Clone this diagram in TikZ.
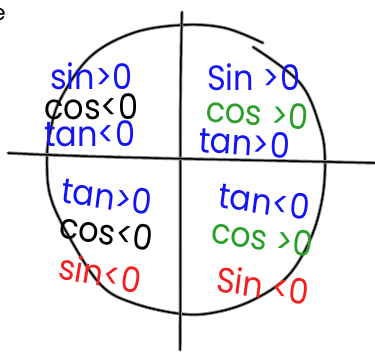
\documentclass[tikz,border=0pt]{standalone}
\usepackage{fontspec}
\setmainfont{Poppins}
\definecolor{penblue}{RGB}{20,20,245}
\definecolor{pengreen}{RGB}{40,160,40}
\definecolor{penred}{RGB}{245,30,30}
\tikzset{
  pen/.style={line width=1.5pt, black, line cap=round, line join=round,
    preaction={draw=black!45, line width=3.4pt, line cap=round, line join=round}},
  ink/.style={inner sep=0pt, anchor=base west, yscale=1.1, font=\fontsize{32}{32}\selectfont}
}
\begin{document}
\begin{tikzpicture}[x=1pt,y=-1pt]
  \useasboundingbox (0,0) rectangle (375,353);
  % circle
  \draw[pen] plot[smooth, tension=0.6] coordinates {(253,47) (300,83) (320,127) (325,160) (322,200)
    (310,240) (287,277) (253,300) (217,312) (182,314) (133,303) (100,284) (67,233) (50,195)
    (47,158) (50,133) (60,100) (90,57) (133,33) (182,25) (225,28) (263,43)};
  % axes
  \coordinate (ytop) at (182,12);
  \coordinate (ybot) at (180,350);
  \coordinate (xl) at (8,153);
  \coordinate (xr) at (375,163);
  \draw[pen] (ytop) .. controls (179,110) and (181,250) .. (ybot);
  \draw[pen] (xl) .. controls (100,158) and (260,160) .. (xr);
  % corner letter
  \node[ink, text=black, yscale=0.9, font=\fontsize{22}{22}\selectfont] (e) at (-8,21) {e};
  % second quadrant
  \node[ink, text=penblue] (s2) at (50,89) {sin>0};
  \node[ink, text=black] (c2) at (44,119) {cos<0};
  \node[ink, text=penblue] (t2) at (44,146) {tan<0};
  % first quadrant
  \node[ink, text=penblue] (s1) at (207,91) {Sin >0};
  \node[ink, text=pengreen, rotate=-5] (c1) at (205,121) {cos >0};
  \node[ink, text=penblue, rotate=-4] (t1) at (198,152) {tan>0};
  % third quadrant
  \node[ink, text=penblue, rotate=-8] (t3) at (60,202) {tan>0};
  \node[ink, text=black, rotate=-8] (c3) at (58,237) {cos<0};
  \node[ink, text=penred, rotate=-10] (s3) at (57,278) {sin<0};
  % fourth quadrant
  \node[ink, text=penblue, rotate=-8] (t4) at (217,207) {tan<0};
  \node[ink, text=pengreen, rotate=-8] (c4) at (210,242) {cos >0};
  \node[ink, text=penred, rotate=-8] (s4) at (215,291) {Sin <0};
\end{tikzpicture}
\end{document}
